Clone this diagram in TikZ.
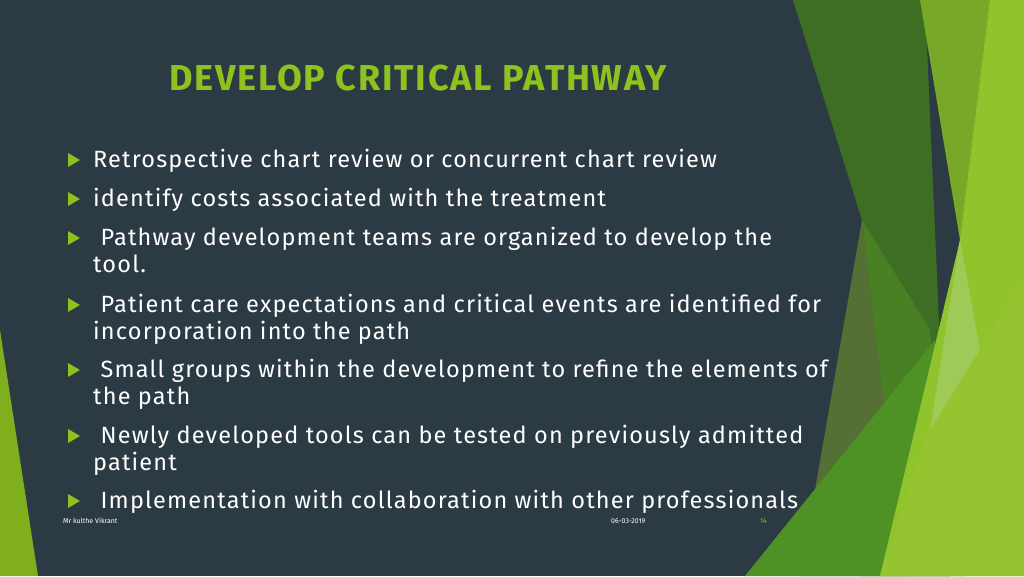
\documentclass[tikz,border=0pt]{standalone}
\usepackage{fontspec}
\setmainfont{Fira Sans}
\definecolor{bg}{HTML}{2B3A43}
\definecolor{bgreen}{HTML}{8DC21F}
\definecolor{ga}{RGB}{61,110,36}
\definecolor{gb}{RGB}{84,112,52}
\definecolor{gc}{RGB}{74,128,36}
\definecolor{gd}{RGB}{78,146,38}
\definecolor{ge}{RGB}{120,168,40}
\definecolor{gf}{RGB}{143,196,45}
\definecolor{gg}{RGB}{158,203,88}
\definecolor{gh}{RGB}{150,196,48}
\begin{document}
\begin{tikzpicture}[x=1pt,y=-1pt,
  bul/.style={anchor=north west,inner sep=0pt,text=white,font=\fontsize{23.5}{27}\selectfont\addfontfeature{LetterSpace=5}},
  tri/.style={fill=bgreen},
  foot/.style={inner sep=0pt,font=\fontsize{7}{8}\selectfont}]
\fill[bg] (0,0) rectangle (1024,576);
\useasboundingbox (0,0) rectangle (1024,576);
\fill[bgreen!90!black] (0,330) -- (38,576) -- (0,576) -- cycle;
\fill[ga] (793,0) -- (925,0) -- (950,576) -- (860,576) -- (862,220) -- cycle;
\fill[gb] (862,220) -- (905,576) -- (800,576) -- cycle;
\fill[gc] (862,220) -- (930,330) -- (950,576) -- (905,576) -- cycle;
\fill[gd] (745,576) -- (935,340) -- (965,576) -- cycle;
\fill[ge] (920,0) -- (1024,0) -- (1024,280) -- (960,240) -- cycle;
\fill[gf] (990,0) -- (1024,0) -- (1024,576) -- (880,576) -- (960,240) -- cycle;
\fill[gg] (960,240) -- (980,350) -- (930,430) -- cycle;
\fill[gh] (930,430) -- (1024,280) -- (1024,576) -- (880,576) -- cycle;
\node[text=bgreen,font=\fontsize{36}{40}\selectfont\bfseries\addfontfeature{LetterSpace=5}] (title) at (418,78) {DEVELOP CRITICAL PATHWAY};
\foreach \y in {160,199,238,305,370,436,501}
  \fill[tri] (68,\y-7) -- (80,\y) -- (68,\y+7) -- cycle;
\node[bul] (b1) at (93,149) {Retrospective chart review or concurrent chart review};
\node[bul] (b2) at (93,188) {identify costs associated with the treatment};
\node[bul,align=left] (b3) at (93,227) {\ Pathway development teams are organized to develop the\\tool.};
\node[bul,align=left] (b4) at (93,294) {\ Patient care expectations and critical events are identified for\\incorporation into the path};
\node[bul,align=left] (b5) at (93,359) {\ Small groups within the development to refine the elements of\\the path};
\node[bul,align=left] (b6) at (93,425) {\ Newly developed tools can be tested on previously admitted\\patient};
\node[bul] (b7) at (93,490) {\ Implementation with collaboration with other professionals};
\node[foot,text=white,anchor=west] (f1) at (63,521) {Mr kulthe Vikrant};
\node[foot,text=white,anchor=west] (f2) at (611,521) {06-03-2019};
\node[foot,text=bgreen,anchor=west] (f3) at (760,521) {14};
\end{tikzpicture}
\end{document}
